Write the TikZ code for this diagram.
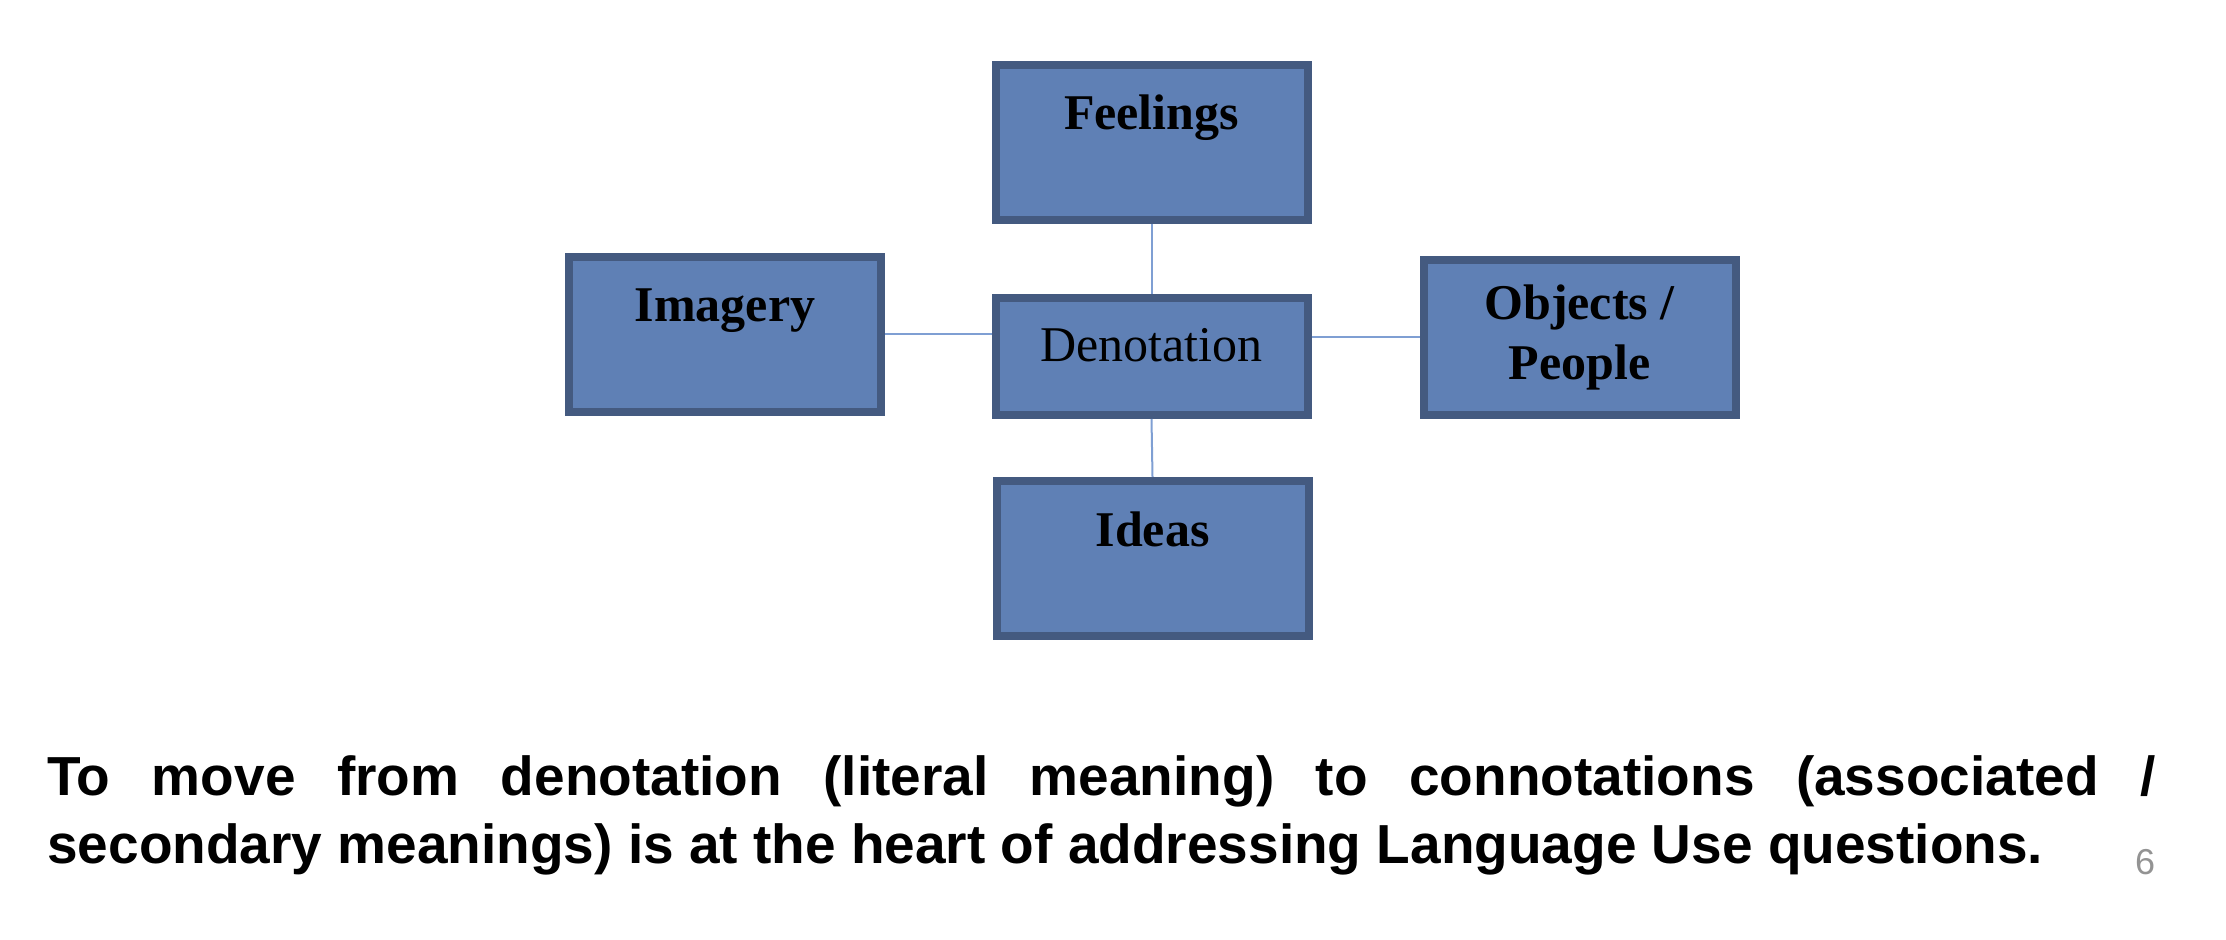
\documentclass[tikz,border=0pt]{standalone}
\usepackage{fontspec}
\setmainfont{Liberation Serif}
\newfontfamily\notefont{Liberation Sans}
\definecolor{boxfill}{HTML}{5F80B5}
\definecolor{boxedge}{HTML}{445A80}
\definecolor{linkblue}{HTML}{7F9FD3}

\begin{document}
\begin{tikzpicture}[x=0.5pt,y=-0.5pt,
  box/.style={draw=boxedge,fill=boxfill,line width=4pt,inner sep=0pt,
    minimum width=156pt,font=\fontsize{25}{30}\selectfont\bfseries},
  topbox/.style={box,text height=32.5pt,text depth=45pt},
  link/.style={draw=linkblue,line width=1pt},
  note/.style={anchor=base west,inner sep=0pt,
    font=\notefont\bfseries\fontsize{27.5}{34}\selectfont}]
 \useasboundingbox (0,0) rectangle (2226,940);
 % the five boxes
 \node[topbox] (feel) at (1151.5,142.5) {Feelings};
 \node[topbox] (img) at (725,334.5) {Imagery};
 \node[topbox] (idea) at (1152.5,558.5) {Ideas};
 \node[box,minimum height=77.5pt,align=center] (obj) at (1579.5,337.5) {Objects /\\People};
 \node[box,text height=32pt,text depth=26.5pt,font=\fontsize{25}{30}\selectfont] (deno) at (1151.5,356.5) {Denotation};
 % links
 \draw[link] (feel.south) -- (deno.north);
 \draw[link] (deno.south) -- (idea.north);
 \draw[link] (img.east) -- (img.east -| deno.west);
 \draw[link] (obj.west -| deno.east) -- (obj.west);
 % caption
 \node[note] (line1) at (47,795) {\makebox[1054pt][s]{To move from denotation (literal meaning) to connotations (associated /}};
 \node[note] (line2) at (47,863) {secondary meanings) is at the heart of addressing Language Use questions.};
 \node[font=\notefont\fontsize{18}{20}\selectfont,text=gray!85] (pgnum) at (2145,862) {6};
\end{tikzpicture}
\end{document}
